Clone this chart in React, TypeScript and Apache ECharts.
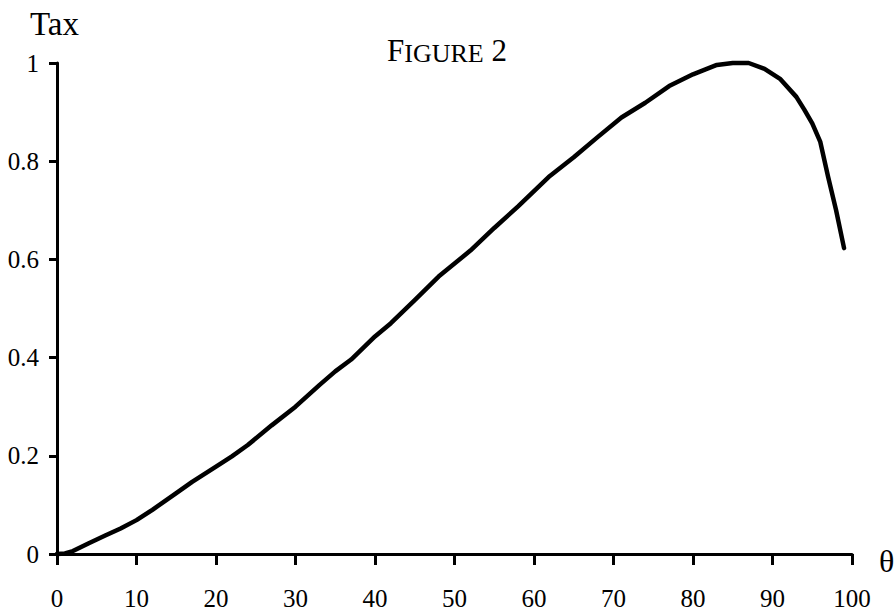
import React, { useEffect, useRef } from "react";
import * as echarts from "echarts";

const thetaValues = [0, 1, 2, 4, 6, 8, 10, 12, 15, 17, 20, 22, 24, 27, 30, 33, 35, 37, 40, 42, 45, 48, 52, 55, 58, 62, 65, 68, 71, 74, 77, 80, 83, 85, 87, 89, 91, 93, 94, 95, 96, 97, 98, 99];
const taxValues = [0, 0.001, 0.006, 0.022, 0.037, 0.052, 0.069, 0.09, 0.124, 0.147, 0.178, 0.199, 0.222, 0.262, 0.3, 0.344, 0.372, 0.396, 0.443, 0.47, 0.517, 0.565, 0.618, 0.664, 0.708, 0.77, 0.808, 0.849, 0.889, 0.919, 0.953, 0.977, 0.996, 1.0, 1.0, 0.988, 0.967, 0.931, 0.905, 0.877, 0.84, 0.768, 0.7, 0.623];

const xTicks = { min: 0, max: 100, interval: 10 };
const yTicks = { min: 0, max: 1, interval: 0.2 };

const yAxisTitle = "Tax";
const xAxisTitle = "θ";
const figureTitleParts = ["F", "IGURE", " 2"];

const FONT = "Liberation Serif";

export default function App() {
  const ref = useRef<HTMLDivElement>(null);
  useEffect(() => {
    document.body.style.margin = "0";
    if (!ref.current) return;
    const chart = echarts.init(ref.current, undefined, { renderer: "svg" });
    const data = thetaValues.map((t, i) => [t, taxValues[i]]);
    chart.setOption({
      animation: false,
      backgroundColor: "#ffffff",
      grid: { left: 57, right: 44, top: 63, bottom: 57, containLabel: false },
      xAxis: {
        type: "value",
        min: xTicks.min,
        max: xTicks.max,
        interval: xTicks.interval,
        axisLine: { show: true, onZero: false, lineStyle: { color: "#000", width: 3 } },
        axisTick: { show: true, length: 11, lineStyle: { color: "#000", width: 3 } },
        axisLabel: { color: "#000", fontSize: 25, fontFamily: FONT, margin: 32 },
        splitLine: { show: false },
      },
      yAxis: {
        type: "value",
        min: yTicks.min,
        max: yTicks.max,
        interval: yTicks.interval,
        axisLine: { show: true, onZero: false, lineStyle: { color: "#000", width: 3 } },
        axisTick: { show: true, length: 8, lineStyle: { color: "#000", width: 3 } },
        axisLabel: { color: "#000", fontSize: 25, fontFamily: FONT, margin: 18 },
        splitLine: { show: false },
      },
      series: [
        {
          type: "line",
          data,
          showSymbol: false,
          symbol: "none",
          clip: false,
          lineStyle: { color: "#000", width: 4.5, cap: "round", join: "round" },
        },
      ],
      graphic: [
        {
          type: "text",
          left: 30,
          top: 7,
          style: { text: yAxisTitle, fontSize: 33, fontFamily: FONT, fill: "#000" },
        },
        {
          type: "text",
          left: 879,
          top: 545,
          style: { text: xAxisTitle, fontSize: 32, fontFamily: FONT, fill: "#000" },
        },
        {
          type: "text",
          left: 387,
          top: 35,
          style: {
            text: `{a|${figureTitleParts[0]}}{b|${figureTitleParts[1]}}{a|${figureTitleParts[2]}}`,
            fill: "#000",
            rich: {
              a: { fontSize: 31, fontFamily: FONT, fill: "#000", verticalAlign: "bottom", lineHeight: 31 },
              b: { fontSize: 26, fontFamily: FONT, fill: "#000", verticalAlign: "bottom", lineHeight: 31 },
            },
          },
        },
      ],
    });
    return () => chart.dispose();
  }, []);
  return <div ref={ref} style={{ width: 896, height: 611 }} />;
}
